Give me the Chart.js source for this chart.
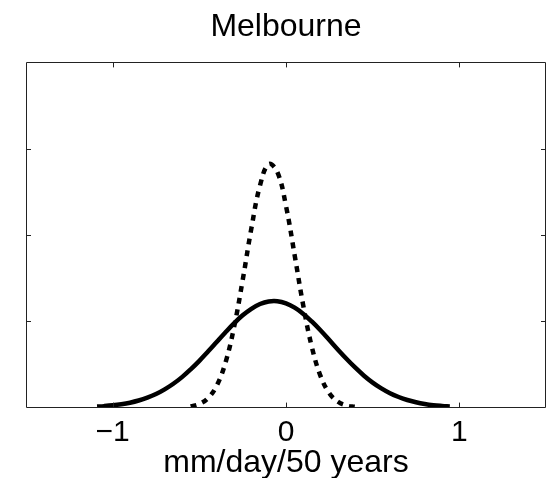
<!DOCTYPE html>
<html>
<head>
<meta charset="utf-8">
<script src="https://cdn.jsdelivr.net/npm/chart.js@4/dist/chart.umd.min.js"></script>
<style>
  html, body { margin: 0; padding: 0; background: #fff; }
  canvas { display: block; }
</style>
</head>
<body>
<canvas id="pdf" width="546" height="478"></canvas>
<script>
// Melbourne trend distributions (mm/day/50 years)
const TITLE = 'Melbourne';
const X_LABEL = 'mm/day/50 years';
const X_TICKS = [-1, 0, 1];
const Y_TICKS = [1, 2, 3];

// wide distribution (solid)
const xSolid = [-1.09, -1.05, -1.0, -0.95, -0.9, -0.85, -0.8, -0.75, -0.7, -0.65, -0.6, -0.55, -0.5, -0.45,
  -0.4, -0.35, -0.3, -0.25, -0.2, -0.15, -0.1, -0.05, 0.0, 0.05, 0.1, 0.15, 0.2, 0.25, 0.3, 0.35,
  0.4, 0.45, 0.5, 0.55, 0.6, 0.65, 0.7, 0.75, 0.8, 0.85, 0.9, 0.945];
const ySolid = [0.012, 0.017, 0.026, 0.039, 0.057, 0.082, 0.115, 0.157, 0.211, 0.276, 0.353, 0.443, 0.542, 0.649,
  0.760, 0.871, 0.976, 1.069, 1.145, 1.200, 1.230, 1.233, 1.208, 1.158, 1.086, 0.995, 0.893, 0.783, 0.671, 0.563,
  0.462, 0.370, 0.290, 0.223, 0.167, 0.123, 0.088, 0.062, 0.042, 0.028, 0.019, 0.013];

// narrow distribution (dashed)
const xDashed = [-0.55, -0.5, -0.45, -0.4, -0.35, -0.3, -0.25, -0.2, -0.15, -0.1, -0.05, 0.0, 0.05,
  0.1, 0.15, 0.2, 0.25, 0.3, 0.35, 0.4];
const yDashed = [0.014, 0.042, 0.110, 0.253, 0.516, 0.929, 1.476, 2.074, 2.573, 2.820, 2.730, 2.336, 1.765,
  1.178, 0.695, 0.362, 0.167, 0.068, 0.024, 0.008];

const FONT = '"Liberation Sans", Arial, Helvetica, sans-serif';

const toPoints = (xs, ys) => xs.map((x, i) => ({ x, y: ys[i] }));

// box around the axes with inward ticks on all four sides
const framePlugin = {
  id: 'frame',
  afterDatasetsDraw(chart) {
    const { ctx, chartArea: a, scales } = chart;
    const len = 5;
    ctx.save();
    ctx.strokeStyle = '#222';
    ctx.lineWidth = 1;
    ctx.beginPath();
    ctx.rect(Math.round(a.left) + 0.5, Math.round(a.top) + 0.5,
      Math.round(a.right - a.left) - 1, Math.round(a.bottom - a.top));
    X_TICKS.forEach(v => {
      const px = Math.round(scales.x.getPixelForValue(v)) + 0.5;
      ctx.moveTo(px, a.bottom); ctx.lineTo(px, a.bottom - len);
      ctx.moveTo(px, a.top); ctx.lineTo(px, a.top + len);
    });
    Y_TICKS.forEach(v => {
      const py = Math.round(scales.y.getPixelForValue(v)) + 0.5;
      ctx.moveTo(a.left, py); ctx.lineTo(a.left + len, py);
      ctx.moveTo(a.right, py); ctx.lineTo(a.right - len, py);
    });
    ctx.stroke();
    ctx.restore();
  }
};

new Chart(document.getElementById('pdf'), {
  type: 'line',
  data: {
    datasets: [
      {
        data: toPoints(xSolid, ySolid),
        borderColor: '#000',
        borderWidth: 4.5,
        pointRadius: 0,
        tension: 0.4,
        fill: false
      },
      {
        data: toPoints(xDashed, yDashed),
        borderColor: '#000',
        borderWidth: 4.5,
        borderDash: [6, 6],
        borderCapStyle: 'butt',
        pointRadius: 0,
        tension: 0.4,
        fill: false
      }
    ]
  },
  options: {
    responsive: false,
    animation: false,
    devicePixelRatio: 1,
    layout: { padding: { left: 26, right: 0, top: 0, bottom: -4 } },
    plugins: {
      legend: { display: false },
      tooltip: { enabled: false },
      title: {
        display: true,
        text: TITLE,
        color: '#000',
        font: { family: FONT, size: 32, weight: 'normal' },
        padding: { top: 8, bottom: 16 }
      }
    },
    scales: {
      x: {
        type: 'linear',
        min: -1.5,
        max: 1.5,
        grid: { display: false },
        border: { display: false },
        afterBuildTicks: s => { s.ticks = X_TICKS.map(value => ({ value })); },
        ticks: {
          color: '#000',
          padding: -1,
          maxRotation: 0,
          font: { family: FONT, size: 30 },
          callback: v => String(v).replace('-', '\u2212')
        },
        title: {
          display: true,
          text: X_LABEL,
          color: '#000',
          font: { family: FONT, size: 32 },
          padding: { top: -6, bottom: 0 }
        }
      },
      y: {
        display: false,
        min: 0,
        max: 4
      }
    }
  },
  plugins: [framePlugin]
});
</script>
</body>
</html>
